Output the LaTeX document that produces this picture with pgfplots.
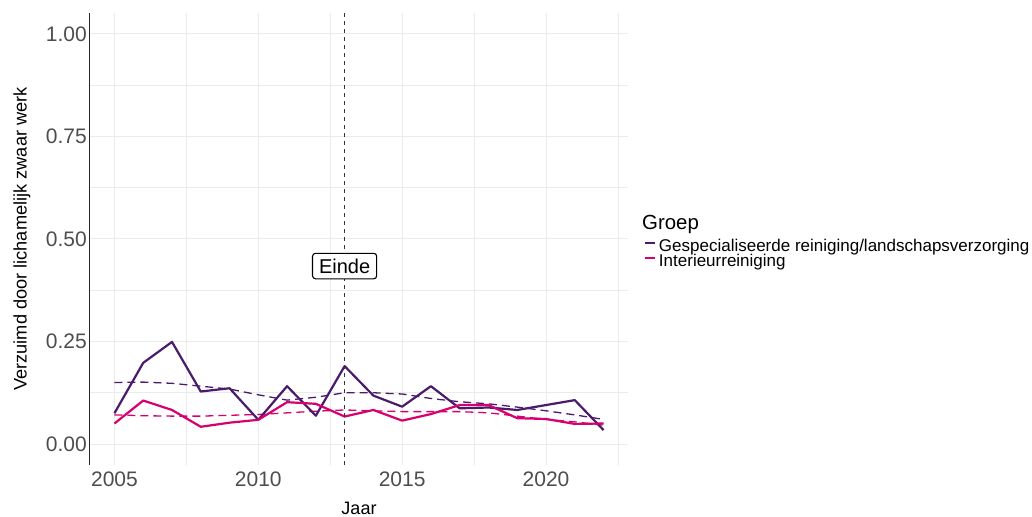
\documentclass[border=0pt]{standalone}
\usepackage{fontspec}
\setmainfont{Liberation Sans}
\usepackage{pgfplots}
\pgfplotsset{compat=1.18}
\definecolor{cpurple}{HTML}{4A1A6B}
\definecolor{cpink}{HTML}{D6006E}
\definecolor{gridc}{HTML}{EBEBEB}
\definecolor{tickc}{HTML}{4D4D4D}

\begin{document}
\begin{tikzpicture}[x=1bp,y=1bp]
\useasboundingbox (-90,-52) rectangle (942,465);
\begin{axis}[
  at={(0,0)}, anchor=south west,
  scale only axis, width=538bp, height=452bp,
  xmin=2004.15, xmax=2022.85, ymin=-0.0512, ymax=1.0512,
  clip=false,
  axis lines*=left,
  x axis line style={draw=none},
  y axis line style={draw=black!85, line width=1bp, -},
  major tick length=0pt, minor tick length=0pt,
  xtick={2005,2010,2015,2020},
  minor xtick={2007.5,2012.5,2017.5,2022.5},
  ytick={0,0.25,0.5,0.75,1},
  minor ytick={0.125,0.375,0.625,0.875},
  grid=both,
  major grid style={draw=gridc, line width=1bp},
  minor grid style={draw=gridc, line width=0.6bp},
  /pgf/number format/assume math mode=true,
  x tick label style={/pgf/number format/1000 sep={}, anchor=north, inner sep=0pt, yshift=-7bp,
    font=\fontsize{21bp}{25bp}\selectfont, text=tickc},
  y tick label style={/pgf/number format/.cd, fixed, fixed zerofill, precision=2, /tikz/.cd,
    anchor=east, inner sep=0pt, xshift=-3bp, font=\fontsize{21bp}{25bp}\selectfont, text=tickc},
  xlabel={Jaar},
  xlabel style={at={(axis description cs:0.5,-0.1106)}, anchor=base, inner sep=0pt,
    font=\fontsize{18bp}{22bp}\selectfont},
  ylabel={Verzuimd door lichamelijk zwaar werk},
  ylabel style={at={(axis description cs:-0.1264,0.5)}, anchor=center, rotate=0, inner sep=0pt,
    font=\fontsize{18.2bp}{22bp}\selectfont},
  legend style={at={(axis description cs:1.0297,0.4967)}, anchor=north west,
    draw=none, fill=none, inner sep=0pt, outer sep=0pt, row sep=0pt,
    font=\fontsize{17bp}{18bp}\selectfont,
    nodes={inner sep=0pt, text height=11.5bp, text depth=3.5bp},
    /tikz/every odd column/.style={column sep=3bp}},
  legend cell align=left,
  legend image code/.code={\draw[#1, line width=2bp, solid] (0bp,4.5bp) -- (10bp,4.5bp);},
]
% smoothed trends (dashed)
\addplot[forget plot, cpurple, line width=1.3bp, dash pattern=on 8bp off 5bp] coordinates {
(2005,0.150) (2006,0.151) (2007,0.148) (2008,0.141) (2009,0.134) (2010,0.120)
(2011,0.107) (2012,0.114) (2013,0.125) (2014,0.125) (2015,0.122) (2016,0.111)
(2017,0.103) (2018,0.098) (2019,0.090) (2020,0.081) (2021,0.071) (2022,0.060)};
\addplot[forget plot, cpink, line width=1.3bp, dash pattern=on 8bp off 5bp] coordinates {
(2005,0.071) (2006,0.069) (2007,0.068) (2008,0.068) (2009,0.070) (2010,0.072)
(2011,0.076) (2012,0.080) (2013,0.083) (2014,0.081) (2015,0.079) (2016,0.079)
(2017,0.079) (2018,0.076) (2019,0.068) (2020,0.060) (2021,0.054) (2022,0.046)};
% observed series
\addplot[cpurple, line width=2.2bp, line join=round] coordinates {
(2005,0.075) (2006,0.198) (2007,0.249) (2008,0.128) (2009,0.136) (2010,0.059)
(2011,0.141) (2012,0.069) (2013,0.190) (2014,0.118) (2015,0.091) (2016,0.141)
(2017,0.087) (2018,0.089) (2019,0.083) (2020,0.095) (2021,0.107) (2022,0.034)};
\addlegendentry{Gespecialiseerde reiniging/landschapsverzorging}
\addplot[cpink, line width=2.2bp, line join=round] coordinates {
(2005,0.050) (2006,0.106) (2007,0.083) (2008,0.042) (2009,0.052) (2010,0.059)
(2011,0.102) (2012,0.098) (2013,0.067) (2014,0.083) (2015,0.057) (2016,0.073)
(2017,0.095) (2018,0.095) (2019,0.063) (2020,0.061) (2021,0.049) (2022,0.050)};
\addlegendentry{Interieurreiniging}
% reference line
\addplot[forget plot, black!80, line width=1bp, dash pattern=on 4bp off 4bp] coordinates {(2013,-0.0512) (2013,1.0512)};
\node[draw=black, fill=white, rounded corners=3bp, line width=1.1bp,
  inner xsep=6.5bp, inner ysep=5.5bp, text height=14.5bp, text depth=0bp,
  font=\fontsize{20bp}{24bp}\selectfont] at (axis cs:2013,0.434) {Einde};
\node[anchor=base west, inner sep=0pt, font=\fontsize{20.4bp}{24bp}\selectfont]
  at (axis description cs:1.026,0.5199) {Groep};
\end{axis}
\end{tikzpicture}
\end{document}
